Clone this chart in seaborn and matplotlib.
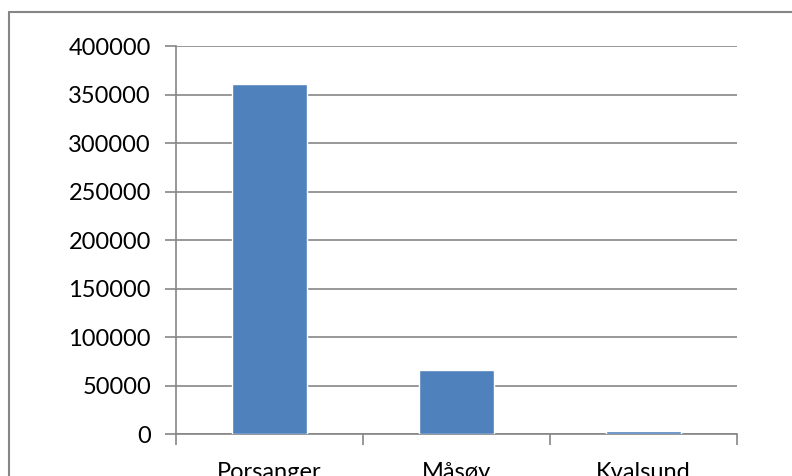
import matplotlib
matplotlib.use("Agg")
import matplotlib.pyplot as plt
import seaborn as sns
import pandas as pd
from matplotlib.lines import Line2D

# values
kommuner = ["Porsanger", "Måsøy", "Kvalsund"]
verdier = [361000, 66500, 3000]
y_ticks = [0, 50000, 100000, 150000, 200000, 250000, 300000, 350000, 400000]

bar_color = "#4F81BD"
line_color = "#868686"

sns.set_theme(style="white")
plt.rcParams["font.family"] = ["Lato", "DejaVu Sans"]

df = pd.DataFrame({"kommune": kommuner, "verdi": verdier})

fig = plt.figure(figsize=(7.92, 4.76), dpi=100)
ax = fig.add_axes([0.2222, 0.0882, 0.7083, 0.8151])

sns.barplot(data=df, x="kommune", y="verdi", color=bar_color, width=0.4,
            saturation=1, ax=ax, zorder=3)

ax.set_ylim(0, 400000)
ax.set_xlim(-0.5, len(kommuner) - 0.5)
ax.set_yticks(y_ticks)
ax.set_yticklabels([str(v) for v in y_ticks], fontsize=17, color="black")
ax.yaxis.grid(True, color=line_color, linewidth=1.2, zorder=0)
ax.set_axisbelow(True)
ax.set_xlabel("")
ax.set_ylabel("")

# category labels without marks, tick marks on the category boundaries
ax.tick_params(axis="x", which="major", length=0, pad=20, labelsize=17,
               labelcolor="black")
ax.set_xticks([i - 0.5 for i in range(len(kommuner) + 1)], minor=True)
ax.tick_params(axis="x", which="minor", length=8, width=1.2, color=line_color,
               direction="out", bottom=True)
ax.tick_params(axis="y", length=8, width=1.2, color=line_color,
               direction="out", left=True, pad=10)

for side in ["top", "right"]:
    ax.spines[side].set_visible(False)
for side in ["left", "bottom"]:
    ax.spines[side].set_color(line_color)
    ax.spines[side].set_linewidth(1.2)
    ax.spines[side].set_zorder(2)

# chart area border (cut off on the right and bottom in the reference)
fig.add_artist(Line2D([9 / 792, 9 / 792], [0, 1 - 12 / 476],
                      color=line_color, linewidth=1.5))
fig.add_artist(Line2D([9 / 792, 1], [1 - 12 / 476, 1 - 12 / 476],
                      color=line_color, linewidth=1.5))

fig.savefig("out.png", dpi=100)
